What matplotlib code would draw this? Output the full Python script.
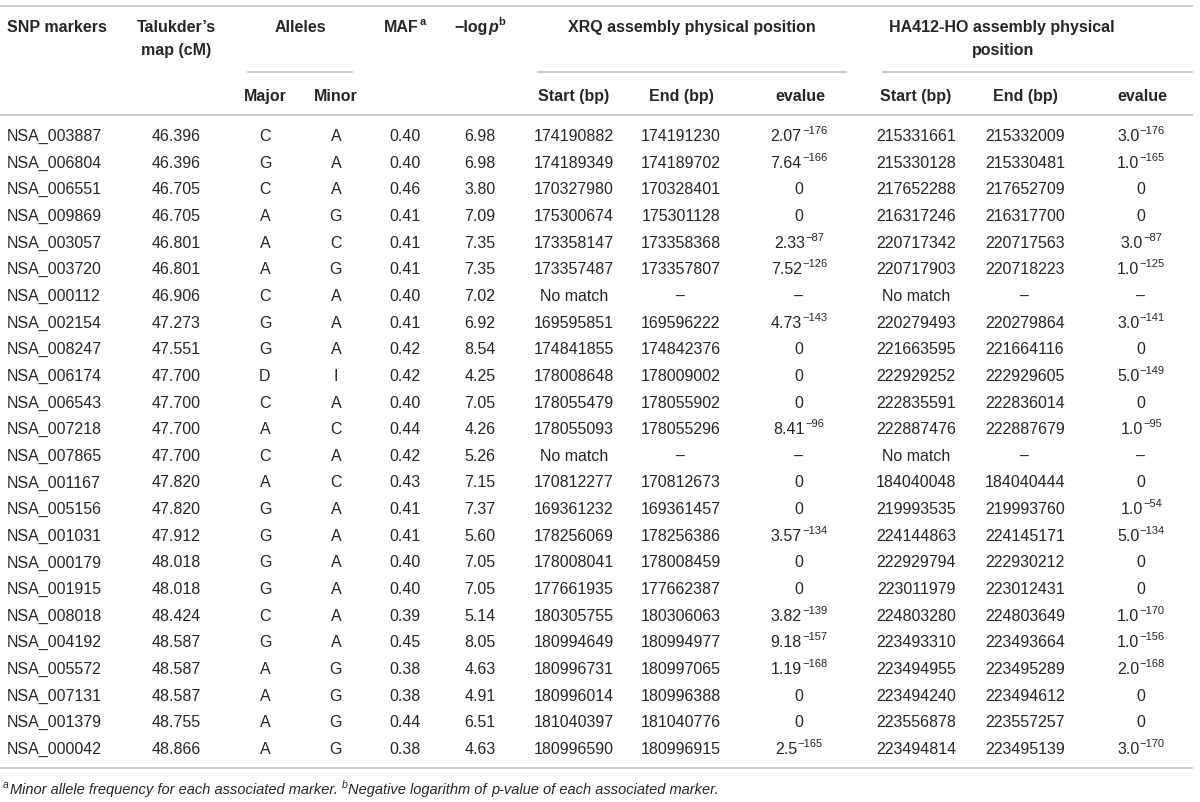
import matplotlib.pyplot as plt

plt.rcParams['font.family'] = ['Liberation Sans', 'DejaVu Sans']

# table data
markers = ["NSA_003887", "NSA_006804", "NSA_006551", "NSA_009869", "NSA_003057", "NSA_003720",
           "NSA_000112", "NSA_002154", "NSA_008247", "NSA_006174", "NSA_006543", "NSA_007218",
           "NSA_007865", "NSA_001167", "NSA_005156", "NSA_001031", "NSA_000179", "NSA_001915",
           "NSA_008018", "NSA_004192", "NSA_005572", "NSA_007131", "NSA_001379", "NSA_000042"]
talukder = ["46.396", "46.396", "46.705", "46.705", "46.801", "46.801", "46.906", "47.273",
            "47.551", "47.700", "47.700", "47.700", "47.700", "47.820", "47.820", "47.912",
            "48.018", "48.018", "48.424", "48.587", "48.587", "48.587", "48.755", "48.866"]
major = ["C", "G", "C", "A", "A", "A", "C", "G", "G", "D", "C", "A",
         "C", "A", "G", "G", "G", "G", "C", "G", "A", "A", "A", "A"]
minor = ["A", "A", "A", "G", "C", "G", "A", "A", "A", "I", "A", "C",
         "A", "C", "A", "A", "A", "A", "A", "A", "G", "G", "G", "G"]
maf = ["0.40", "0.40", "0.46", "0.41", "0.41", "0.41", "0.40", "0.41", "0.42", "0.42", "0.40", "0.44",
       "0.42", "0.43", "0.41", "0.41", "0.40", "0.40", "0.39", "0.45", "0.38", "0.38", "0.44", "0.38"]
logp = ["6.98", "6.98", "3.80", "7.09", "7.35", "7.35", "7.02", "6.92", "8.54", "4.25", "7.05", "4.26",
        "5.26", "7.15", "7.37", "5.60", "7.05", "7.05", "5.14", "8.05", "4.63", "4.91", "6.51", "4.63"]
xrq_start = ["174190882", "174189349", "170327980", "175300674", "173358147", "173357487",
             "No match", "169595851", "174841855", "178008648", "178055479", "178055093",
             "No match", "170812277", "169361232", "178256069", "178008041", "177661935",
             "180305755", "180994649", "180996731", "180996014", "181040397", "180996590"]
xrq_end = ["174191230", "174189702", "170328401", "175301128", "173358368", "173357807",
           "–", "169596222", "174842376", "178009002", "178055902", "178055296",
           "–", "170812673", "169361457", "178256386", "178008459", "177662387",
           "180306063", "180994977", "180997065", "180996388", "181040776", "180996915"]
xrq_eval = ["2.07^−176", "7.64^−166", "0", "0", "2.33^−87", "7.52^−126", "–", "4.73^−143",
            "0", "0", "0", "8.41^−96", "–", "0", "0", "3.57^−134", "0", "0",
            "3.82^−139", "9.18^−157", "1.19^−168", "0", "0", "2.5^−165"]
ha_start = ["215331661", "215330128", "217652288", "216317246", "220717342", "220717903",
            "No match", "220279493", "221663595", "222929252", "222835591", "222887476",
            "No match", "184040048", "219993535", "224144863", "222929794", "223011979",
            "224803280", "223493310", "223494955", "223494240", "223556878", "223494814"]
ha_end = ["215332009", "215330481", "217652709", "216317700", "220717563", "220718223",
          "–", "220279864", "221664116", "222929605", "222836014", "222887679",
          "–", "184040444", "219993760", "224145171", "222930212", "223012431",
          "224803649", "223493664", "223495289", "223494612", "223557257", "223495139"]
ha_eval = ["3.0^−176", "1.0^−165", "0", "0", "3.0^−87", "1.0^−125", "–", "3.0^−141",
           "0", "5.0^−149", "0", "1.0^−95", "–", "0", "1.0^−54", "5.0^−134", "0", "0",
           "1.0^−170", "1.0^−156", "2.0^−168", "0", "0", "3.0^−170"]

FS = 11.5
SUP = 8.0
TXT = '#262626'
LINE = '#cccccc'

fig = plt.figure(figsize=(12, 8.02), dpi=100)
ax = fig.add_axes([0, 0, 1, 1])
ax.set_xlim(0, 1200)
ax.set_ylim(802, 0)
ax.axis('off')
renderer = fig.canvas.get_renderer()


def runs(x, y, parts, ha='center', size=FS, sup=SUP, raise_=7):
    # parts: (text, bold, italic, superscript, gap before)
    texts = []
    for s, bold, italic, is_sup, gap in parts:
        t = ax.text(0, y - (raise_ if is_sup else 0), s, fontsize=sup if is_sup else size,
                    fontweight='bold' if bold else 'normal',
                    fontstyle='italic' if italic else 'normal',
                    va='baseline', ha='left', color=TXT)
        texts.append((t, gap))
    widths = [t.get_window_extent(renderer).width for t, _ in texts]
    total = sum(widths) + sum(g for _, g in texts)
    x0 = x - total / 2 if ha == 'center' else x
    for (t, gap), w in zip(texts, widths):
        x0 += gap
        t.set_x(x0)
        x0 += w


def hline(x0, x1, y):
    ax.plot([x0, x1], [y, y], color=LINE, lw=1.4, solid_capstyle='butt')


# rules
hline(0, 1193, 6)
hline(247, 353, 72)
hline(537, 847, 72)
hline(882, 1193, 72)
hline(0, 1193, 115)
hline(0, 1193, 768)

# header
hb = dict(fontsize=FS, fontweight='bold', color=TXT, va='baseline')
ax.text(7, 32, "SNP markers", ha='left', **hb)
ax.text(176, 32, "Talukder’s", ha='center', **hb)
ax.text(176, 55, "map (cM)", ha='center', **hb)
ax.text(300, 32, "Alleles", ha='center', **hb)
runs(405, 32, [("MAF", True, False, False, 0), ("a", True, False, True, 1)])
runs(480, 32, [("−log", True, False, False, 0), ("p", True, True, False, 0),
               ("b", True, False, True, 1)])
ax.text(692, 32, "XRQ assembly physical position", ha='center', **hb)
ax.text(1002, 32, "HA412-HO assembly physical", ha='center', **hb)
ax.text(1003, 55, "position", ha='center', **hb)
sub = [(265, "Major"), (336, "Minor"), (574, "Start (bp)"), (681, "End (bp)"),
       (800, "evalue"), (916, "Start (bp)"), (1025, "End (bp)"), (1142, "evalue")]
for xc, s in sub:
    ax.text(xc, 101, s, ha='center', **hb)

# body
hd = dict(fontsize=FS, color=TXT, va='baseline')


def evalue(x, y, s):
    if '^' in s:
        m, e = s.split('^')
        runs(x, y, [(m, False, False, False, 0), (e, False, False, True, 0.5)])
    else:
        ax.text(x, y, s, ha='center', **hd)


for i in range(len(markers)):
    y = 135 + i * 26.65 + 6
    ax.text(7, y, markers[i], ha='left', **hd)
    ax.text(176, y, talukder[i], ha='center', **hd)
    ax.text(265, y, major[i], ha='center', **hd)
    ax.text(336, y, minor[i], ha='center', **hd)
    ax.text(405, y, maf[i], ha='center', **hd)
    ax.text(480, y, logp[i], ha='center', **hd)
    ax.text(574, y, xrq_start[i], ha='center', **hd)
    ax.text(681, y, xrq_end[i], ha='center', **hd)
    evalue(799, y, xrq_eval[i])
    ax.text(916, y, ha_start[i], ha='center', **hd)
    ax.text(1025, y, ha_end[i], ha='center', **hd)
    evalue(1141, y, ha_eval[i])

# footnote
runs(3, 794, [("a", False, True, True, 0),
              ("Minor allele frequency for each associated marker.", False, True, False, 1),
              ("b", False, True, True, 4),
              ("Negative logarithm of ", False, True, False, 1),
              ("p", False, True, False, 0),
              ("-value of each associated marker.", False, True, False, 0)],
     ha='left', size=10.5, sup=7.5, raise_=6)

fig.savefig('out.png', dpi=100)
